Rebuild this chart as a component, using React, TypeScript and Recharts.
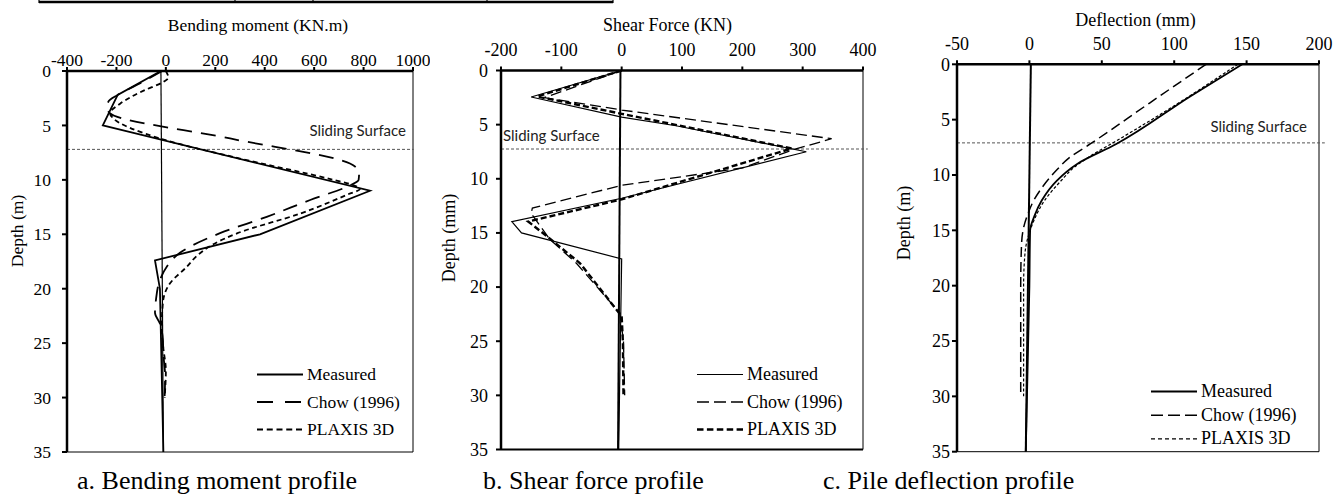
import React from "react";
import { Legend, Line, LineChart, ReferenceLine, XAxis, YAxis } from "recharts";

const SERIF = '"Liberation Serif", "Times New Roman", serif';
const SANS = 'Lato, "Open Sans", sans-serif';

// [depth (m), value]
const momentMeasured = [[0, -20], [2.2, -195], [5, -255], [11, 826], [15, 381], [17.4, -44], [20, -24], [35, -10]];
const momentChow = [
  [0, -15], [1.2, -110], [2.2, -195], [2.8, -232], [3.4, -238], [3.9, -225], [6.2, 260], [8.5, 745], [9.3, 782],
  [10.0, 780], [10.5, 745], [11.85, 584], [13.4, 408], [14.9, 219], [16.7, 57], [18, 3], [19.2, -24], [21, -40],
  [22.2, -44], [23.2, -24], [24.7, -12], [26, -10], [28, -3], [30, -5],
];
const momentPlaxis = [
  [0, 0], [0.6, 10], [1.0, -10], [1.8, -90], [3.0, -185], [3.9, -226], [4.3, -215], [6.2, -24], [7.9, 273],
  [10, 677], [10.5, 760], [10.85, 785], [11.3, 740], [13.1, 543], [14.9, 290], [16.0, 185], [17, 125], [18, 84],
  [19.5, 17], [21.3, -12], [23.8, -17], [25.5, -10], [27.5, 0], [30, -5],
];
const momentPile = [[0, -20], [35, -10]];

const shearMeasured = [[0, 0], [2.45, -150], [4.3, 0], [5.1, 90], [7.5, 306], [11.8, 0], [13.95, -182], [15, -166], [17.4, 0], [35, -5]];
const shearChow = [
  [0, 0], [2.5, -128], [3.65, 0], [6.3, 348], [7.3, 285], [9.0, 200], [10.6, 0], [12.7, -148], [13.2, -150],
  [15.6, -119], [17.8, -75], [22.4, -3], [25, 3], [30, 5],
];
const shearPlaxis = [
  [0, 0], [2.4, -140], [4.0, 0], [7.2, 282], [11.9, 0], [13.95, -155], [15.3, -124], [17.8, -69], [22.7, 0],
  [25, 2], [30, 3],
];
const shearPile = [[0, -2], [35, -6]];

const deflectionMeasured = [[0, 147], [2.9, 111], [7.2, 60], [9, 33], [10.5, 19], [12.3, 8.5], [13.7, 3.5], [15, 0.5], [20, 0], [35, -2.5]];
const deflectionChow = [
  [0, 122], [3.5, 83], [7.2, 42], [8.5, 27], [9.6, 18.5], [11.4, 7.3], [12.3, 3], [13.5, -1], [15, -4.4],
  [16.5, -5.5], [20, -6], [25, -6], [30, -6],
];
const deflectionPlaxis = [
  [0, 144], [3.5, 103], [7, 59], [8.3, 42], [9.3, 31], [10.5, 22], [12.3, 10.5], [14, 3.5], [15, 0.5], [17, -3],
  [20, -4], [25, -4], [30, -4],
];
const deflectionPile = [[0, 1], [35, -2.5]];

const DEPTH_TICKS = [0, 5, 10, 15, 20, 25, 30, 35];
const MOMENT_TICKS = [-400, -200, 0, 200, 400, 600, 800, 1000];
const SHEAR_TICKS = [-200, -100, 0, 100, 200, 300, 400];
const DEFLECTION_TICKS = [-50, 0, 50, 100, 150, 200];

const SERIES_NAMES = ["Measured", "Chow (1996)", "PLAXIS 3D"];
const SLIDING = { moment: 7.2, shear: 7.25, deflection: 7.1 };

const toRows = (pairs: number[][]) => pairs.map(([depth, value]) => ({ depth, value }));

type LineStyle = { width: number; dash?: string; curve: "linear" | "monotone"; legendWidth?: number; legendDash?: string };

type PanelProps = {
  left: number;
  width: number;
  height: number;
  margin: { top: number; right: number; bottom: number; left: number };
  yAxisWidth: number;
  xAxisHeight: number;
  xTicks: number[];
  xTickMargin: number;
  yTickMargin: number;
  fontSize: number;
  series: number[][][];
  styles: LineStyle[];
  pile: number[][];
  pileWidth: number;
  sliding: number;
  slidingEnd: number;
  bottomWidth: number;
  legend: { left: number; top: number; gap: number };
};

function Panel(p: PanelProps) {
  const [xmin, xmax] = [p.xTicks[0], p.xTicks[p.xTicks.length - 1]];
  const tickStyle = { fill: "#000", fontSize: p.fontSize, fontFamily: SERIF, style: { fontFamily: SERIF } };
  const legendContent = () => (
    <svg width={170} height={p.legend.gap * 2 + 30} style={{ display: "block", overflow: "visible" }}>
      {SERIES_NAMES.map((name, i) => {
        const s = p.styles[i];
        const base = 20 + i * p.legend.gap;
        return (
          <g key={name}>
            <line x1={0} x2={46} y1={base - 5.5} y2={base - 5.5} stroke="#000"
              strokeWidth={s.legendWidth ?? s.width} strokeDasharray={s.legendDash ?? s.dash} />
            <text x={50} y={base} fontFamily={SERIF} fontSize={p.fontSize} fill="#000">{name}</text>
          </g>
        );
      })}
    </svg>
  );
  return (
    <div style={{ position: "absolute", left: p.left, top: 0, fontFamily: SERIF }}>
      <LineChart layout="vertical" width={p.width} height={p.height} margin={p.margin} style={{ fontFamily: SERIF }}>
        <XAxis type="number" orientation="top" domain={[xmin, xmax]} ticks={p.xTicks} interval={0}
          allowDataOverflow height={p.xAxisHeight} tickSize={4} tickMargin={p.xTickMargin}
          axisLine={{ stroke: "#000", strokeWidth: 2.5 }} tickLine={{ stroke: "#000", strokeWidth: 2 }}
          tick={tickStyle} />
        <YAxis type="number" dataKey="depth" domain={[0, 35]} ticks={DEPTH_TICKS} interval={0}
          allowDataOverflow width={p.yAxisWidth} tickSize={5} tickMargin={p.yTickMargin}
          axisLine={{ stroke: "#000", strokeWidth: 2.5 }} tickLine={{ stroke: "#000", strokeWidth: 2 }}
          tick={tickStyle} />
        <ReferenceLine x={xmax} stroke="#000" strokeWidth={1} />
        <ReferenceLine y={35} stroke="#000" strokeWidth={p.bottomWidth} />
        <ReferenceLine segment={[{ x: xmin, y: p.sliding }, { x: p.slidingEnd, y: p.sliding }]}
          ifOverflow="visible" stroke="#555" strokeWidth={1} strokeDasharray="3 2" />
        <Line data={toRows(p.pile)} dataKey="value" name="pile" legendType="none" type="linear"
          stroke="#000" strokeWidth={p.pileWidth} dot={false} activeDot={false} isAnimationActive={false} />
        {p.series.map((d, i) => (
          <Line key={SERIES_NAMES[i]} data={toRows(d)} dataKey="value" name={SERIES_NAMES[i]} type={p.styles[i].curve}
            stroke="#000" strokeWidth={p.styles[i].width} strokeDasharray={p.styles[i].dash}
            dot={false} activeDot={false} isAnimationActive={false} />
        ))}
        <Legend layout="vertical" align="center" verticalAlign="middle" content={legendContent}
          wrapperStyle={{ left: p.legend.left, top: p.legend.top, width: 170, height: 90 }} />
      </LineChart>
    </div>
  );
}

export default function App() {
  return (
    <div style={{ position: "absolute", left: 0, top: 0, width: 1343, height: 497, background: "#fff", overflow: "hidden", fontFamily: SERIF }}>
      <Panel left={0} width={430} height={470} margin={{ top: 0, right: 17, bottom: 18, left: 0 }}
        yAxisWidth={67} xAxisHeight={71} xTicks={MOMENT_TICKS} xTickMargin={1} yTickMargin={11} fontSize={17.5}
        series={[momentMeasured, momentChow, momentPlaxis]}
        styles={[
          { width: 1.8, curve: "linear" },
          { width: 1.8, dash: "15 9", curve: "monotone", legendDash: "16 12" },
          { width: 1.8, dash: "5 3.5", curve: "monotone", legendDash: "6 3.75" },
        ]}
        pile={momentPile} pileWidth={1.2} sliding={SLIDING.moment} slidingEnd={1003} bottomWidth={1}
        legend={{ left: 257, top: 360, gap: 27.5 }} />
      <Panel left={440} width={440} height={470} margin={{ top: 0, right: 17, bottom: 20.5, left: 0 }}
        yAxisWidth={61} xAxisHeight={70.5} xTicks={SHEAR_TICKS} xTickMargin={11} yTickMargin={8} fontSize={18}
        series={[shearMeasured, shearChow, shearPlaxis]}
        styles={[
          { width: 1.2, curve: "linear" },
          { width: 1.3, dash: "11 5", curve: "linear", legendDash: "12 5" },
          { width: 2.4, dash: "6 3", curve: "linear", legendDash: "6.5 3.4" },
        ]}
        pile={shearPile} pileWidth={2} sliding={SLIDING.shear} slidingEnd={408} bottomWidth={2}
        legend={{ left: 257, top: 360, gap: 27.5 }} />
      <Panel left={890} width={453} height={470} margin={{ top: 0, right: 24, bottom: 18.3, left: 0 }}
        yAxisWidth={67} xAxisHeight={64.3} xTicks={DEFLECTION_TICKS} xTickMargin={10} yTickMargin={2} fontSize={18}
        series={[deflectionMeasured, deflectionChow, deflectionPlaxis]}
        styles={[
          { width: 1.8, curve: "monotone" },
          { width: 1.5, dash: "10 5", curve: "monotone", legendDash: "12 5" },
          { width: 1.2, dash: "3 2", curve: "monotone", legendDash: "4 3" },
        ]}
        pile={deflectionPile} pileWidth={2} sliding={SLIDING.deflection} slidingEnd={204} bottomWidth={1}
        legend={{ left: 261, top: 377, gap: 23.7 }} />
      <svg width={1343} height={497} style={{ position: "absolute", left: 0, top: 0, pointerEvents: "none" }}>
        <path d="M39 2 H613" stroke="#000" strokeWidth={2.6} />
        {[39, 235, 313, 487, 613].map((x) => (
          <line key={x} x1={x} x2={x} y1={0} y2={3} stroke="#000" strokeWidth={1.2} />
        ))}
        <g fontFamily={SERIF} fill="#000">
          <text x={258} y={31} fontSize={17.5} textAnchor="middle">Bending moment (KN.m)</text>
          <text x={667.5} y={31} fontSize={18} textAnchor="middle">Shear Force (KN)</text>
          <text x={1135.5} y={25.5} fontSize={18} textAnchor="middle">Deflection (mm)</text>
          <text transform="translate(22.5 231) rotate(-90)" fontSize={17.5} textAnchor="middle">Depth (m)</text>
          <text transform="translate(454.5 238) rotate(-90)" fontSize={18} textAnchor="middle">Depth (mm)</text>
          <text transform="translate(909.5 223) rotate(-90)" fontSize={18} textAnchor="middle">Depth (m)</text>
          <text x={77} y={489} fontSize={26}>a. Bending moment profile</text>
          <text x={483} y={489} fontSize={26}>b. Shear force profile</text>
          <text x={823} y={489} fontSize={26}>c. Pile deflection profile</text>
        </g>
        <g fontFamily={SANS} fill="#222" fontSize={15}>
          <text x={406} y={135.5} textAnchor="end">Sliding Surface</text>
          <text x={503} y={140.5}>Sliding Surface</text>
          <text x={1307} y={132} textAnchor="end">Sliding Surface</text>
        </g>
      </svg>
    </div>
  );
}
